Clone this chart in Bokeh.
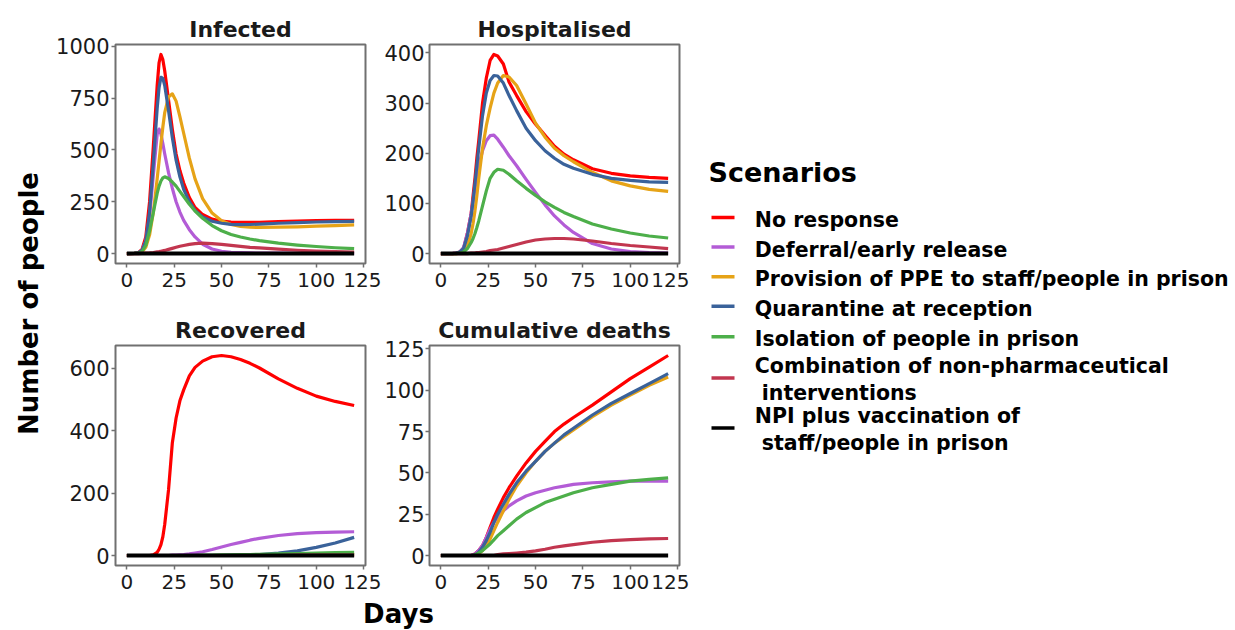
import numpy as np
from bokeh.plotting import figure
from bokeh.models import Range1d, FixedTicker
from bokeh.layouts import row, column
from bokeh.embed import file_html
from bokeh.resources import INLINE
from bokeh.core.properties import value

# ---------------- data ----------------
days = [0, 4, 6, 8, 10, 12, 14, 16, 17, 18, 19, 20, 22, 24, 26, 28, 30, 33, 36, 40,
        45, 50, 55, 60, 65, 70, 80, 90, 100, 110, 120]

scenarios = [
    "No response",
    "Deferral/early release",
    "Provision of PPE to staff/people in prison",
    "Quarantine at reception",
    "Isolation of people in prison",
    "Combination of non-pharmaceutical\n interventions",
    "NPI plus vaccination of\n staff/people in prison",
]
colors = ["#FF0000", "#B35CD6", "#E6A317", "#3A629A", "#4DAF4A", "#C2364F", "#000000"]

panel_titles = ["Infected", "Hospitalised", "Recovered", "Cumulative deaths"]
x_ticks = [0, 25, 50, 75, 100, 125]
y_ticks_infected = [0, 250, 500, 750, 1000]
y_ticks_hospitalised = [0, 100, 200, 300, 400]
y_ticks_recovered = [0, 200, 400, 600]
y_ticks_deaths = [0, 25, 50, 75, 100, 125]

# Infected
inf_no_response = [0, 1, 4, 20, 80, 250, 520, 810, 920, 960, 935, 880, 740, 600, 480, 400, 340, 270, 222, 188,
                   166, 156, 152, 150, 150, 151, 154, 157, 159, 160, 160]
inf_deferral = [0, 1, 3, 15, 60, 180, 380, 575, 600, 575, 530, 480, 390, 315, 250, 200, 160, 115, 80, 45,
                22, 11, 6, 4, 3, 2, 2, 1, 1, 1, 1]
inf_ppe = [0, 1, 2, 8, 30, 90, 200, 360, 445, 530, 610, 680, 755, 770, 735, 660, 580, 460, 360, 265,
           195, 158, 140, 131, 127, 126, 127, 129, 132, 135, 138]
inf_quarantine = [0, 1, 3, 15, 60, 200, 440, 700, 800, 850, 845, 810, 690, 560, 450, 370, 310, 250, 208, 176,
                  156, 146, 141, 139, 140, 142, 146, 149, 152, 154, 155]
inf_isolation = [0, 1, 2, 10, 40, 110, 200, 290, 325, 350, 365, 370, 362, 345, 325, 300, 275, 238, 205, 170,
                 135, 110, 92, 80, 70, 62, 50, 41, 34, 28, 24]
inf_combination = [0, 0, 0, 1, 2, 3, 5, 8, 9, 11, 13, 15, 20, 25, 30, 35, 39, 44, 48, 50,
                   48, 44, 39, 35, 30, 27, 21, 16, 12, 9, 7]
inf_npi_vacc = [0, 0, 0, 0, 0, 0, 0, 0, 0, 0, 0, 0, 0, 0, 0, 0, 0, 0, 0, 0,
                0, 0, 0, 0, 0, 0, 0, 0, 0, 0, 0]

# Hospitalised
hos_no_response = [0, 0, 0, 1, 3, 10, 40, 80, 115, 150, 190, 225, 300, 350, 385, 397, 394, 378, 342, 315,
                   283, 258, 236, 214, 198, 187, 169, 160, 155, 152, 150]
hos_deferral = [0, 0, 0, 1, 3, 12, 40, 80, 105, 130, 155, 175, 205, 225, 235, 236, 228, 212, 195, 175,
                148, 122, 97, 75, 57, 42, 20, 9, 4, 2, 1]
hos_ppe = [0, 0, 0, 0, 1, 4, 15, 40, 60, 85, 115, 150, 210, 255, 290, 320, 340, 355, 352, 335,
           298, 260, 232, 210, 195, 183, 162, 145, 135, 128, 124]
hos_quarantine = [0, 0, 0, 1, 3, 10, 35, 75, 105, 140, 175, 210, 275, 320, 345, 355, 354, 340, 315, 285,
                  250, 225, 205, 190, 178, 170, 158, 150, 146, 143, 142]
hos_isolation = [0, 0, 0, 0, 1, 3, 10, 22, 30, 40, 52, 65, 95, 125, 150, 162, 168, 166, 158, 145,
                 130, 116, 103, 92, 82, 74, 59, 49, 41, 35, 31]
hos_combination = [0, 0, 0, 0, 0, 0, 0, 1, 1, 1, 2, 2, 3, 4, 6, 7, 8, 11, 14, 18,
                   23, 27, 29, 30, 30, 29, 25, 20, 16, 13, 10]
hos_npi_vacc = [0, 0, 0, 0, 0, 0, 0, 0, 0, 0, 0, 0, 0, 0, 0, 0, 0, 0, 0, 0,
                0, 0, 0, 0, 0, 0, 0, 0, 0, 0, 0]

# Recovered
rec_no_response = [0, 0, 0, 0, 0, 0, 2, 10, 20, 35, 60, 100, 210, 360, 440, 495, 530, 575, 602, 622,
                   636, 640, 636, 627, 615, 600, 565, 535, 510, 493, 480]
rec_deferral = [0, 0, 0, 0, 0, 0, 0, 0, 0, 0, 0, 0, 0, 1, 1, 2, 3, 5, 8, 12,
                19, 27, 35, 42, 49, 55, 64, 70, 73, 75, 76]
rec_ppe = [0, 0, 0, 0, 0, 0, 0, 0, 0, 0, 0, 0, 0, 0, 0, 0, 0, 0, 0, 0,
           0, 0, 0, 0, 0, 0, 1, 1, 2, 2, 3]
rec_quarantine = [0, 0, 0, 0, 0, 0, 0, 0, 0, 0, 0, 0, 0, 0, 0, 0, 0, 0, 0, 0,
                  0, 0, 1, 1, 2, 3, 8, 15, 26, 40, 58]
rec_isolation = [0, 0, 0, 0, 0, 0, 0, 0, 0, 0, 0, 0, 0, 0, 0, 0, 0, 0, 0, 1,
                 1, 2, 2, 3, 3, 4, 5, 6, 8, 9, 10]
rec_combination = [0, 0, 0, 0, 0, 0, 0, 0, 0, 0, 0, 0, 0, 0, 0, 0, 0, 0, 0, 0,
                   0, 0, 0, 0, 0, 0, 0, 1, 1, 1, 1]
rec_npi_vacc = [0, 0, 0, 0, 0, 0, 0, 0, 0, 0, 0, 0, 0, 0, 0, 0, 0, 0, 0, 0,
                0, 0, 0, 0, 0, 0, 0, 0, 0, 0, 0]

# Cumulative deaths
dth_no_response = [0, 0, 0, 0, 0, 0, 0, 0, 0.5, 1, 2, 3, 6, 11, 17, 23, 28, 35, 41, 48,
                   56, 63, 69, 75, 79.5, 83.5, 91, 99, 107, 114, 121]
dth_deferral = [0, 0, 0, 0, 0, 0, 0, 0, 0.5, 1, 2, 3, 6, 11, 16, 20, 23, 27, 30, 33,
                36, 38, 39.5, 41, 42, 43, 44, 44.5, 45, 45, 45]
dth_ppe = [0, 0, 0, 0, 0, 0, 0, 0, 0, 0, 0.5, 1, 3, 6, 10, 15, 20, 27, 34, 42,
           50, 57, 63, 68, 72, 76, 84, 91, 97, 103, 108]
dth_quarantine = [0, 0, 0, 0, 0, 0, 0, 0, 0, 0.5, 1, 2, 5, 9, 14, 20, 25, 31, 37, 44,
                  51, 57, 63, 68, 73, 77, 85, 92, 98, 104, 110]
dth_isolation = [0, 0, 0, 0, 0, 0, 0, 0, 0, 0.5, 1, 1.5, 3, 5, 7, 9.5, 12, 15, 18, 22,
                 26, 29, 32, 34, 36, 38, 41, 43, 45, 46, 47]
dth_combination = [0, 0, 0, 0, 0, 0, 0, 0, 0, 0, 0, 0, 0, 0, 0, 0, 0.5, 1, 1.2, 1.5,
                   2, 2.8, 3.8, 5, 5.8, 6.6, 8, 9, 9.6, 10, 10.3]
dth_npi_vacc = [0, 0, 0, 0, 0, 0, 0, 0, 0, 0, 0, 0, 0, 0, 0, 0, 0, 0, 0, 0,
                0, 0, 0, 0, 0, 0, 0, 0, 0, 0, 0]

infected = [inf_no_response, inf_deferral, inf_ppe, inf_quarantine, inf_isolation, inf_combination, inf_npi_vacc]
hospitalised = [hos_no_response, hos_deferral, hos_ppe, hos_quarantine, hos_isolation, hos_combination, hos_npi_vacc]
recovered = [rec_no_response, rec_deferral, rec_ppe, rec_quarantine, rec_isolation, rec_combination, rec_npi_vacc]
deaths = [dth_no_response, dth_deferral, dth_ppe, dth_quarantine, dth_isolation, dth_combination, dth_npi_vacc]

# ---------------- styling ----------------
FONT = "DejaVu Sans"
FRAME_COL = "#707070"
TICK_TXT = "#1a1a1a"


def expand(vals_list):
    lo = 0.0
    hi = max(max(v) for v in vals_list)
    pad = (hi - lo) * 0.05
    return lo - pad, hi + pad


def make_panel(title, series, yticks, left, right, top, bottom, fh, ystand):
    y0, y1 = expand(series)
    p = figure(frame_width=250, frame_height=fh,
               x_range=Range1d(-6, 126), y_range=Range1d(y0, y1),
               output_backend="svg", toolbar_location=None,
               min_border_left=left, min_border_right=right,
               min_border_top=top, min_border_bottom=bottom,
               background_fill_color="white", border_fill_color="white",
               title=title)
    p.title.text_font = FONT
    p.title.text_font_style = "bold"
    p.title.text_font_size = "22px"
    p.title.text_color = "#1a1a1a"
    p.title.align = "center"
    p.title.standoff = 6
    p.grid.visible = False
    p.outline_line_color = FRAME_COL
    p.outline_line_width = 2
    p.xaxis.ticker = FixedTicker(ticks=x_ticks)
    p.yaxis.ticker = FixedTicker(ticks=yticks)
    for ax in (p.xaxis[0], p.yaxis[0]):
        ax.axis_line_color = None
        ax.minor_tick_line_color = None
        ax.major_tick_in = 0
        ax.major_tick_out = 4
        ax.major_tick_line_color = FRAME_COL
        ax.major_tick_line_width = 1.5
        ax.major_label_text_font = FONT
        ax.major_label_text_color = TICK_TXT
    p.xaxis[0].major_label_text_font_size = "20px"
    p.yaxis[0].major_label_text_font_size = "21px"
    p.xaxis[0].major_label_standoff = 5
    p.yaxis[0].major_label_standoff = ystand
    for vals, col in zip(series, colors):
        lw = 4 if col == "#000000" else 3.2
        p.line(days, vals, line_color=col, line_width=lw, line_join="round")
    return p


YW = 48
L1, R1, L2, R2 = 67, 16, 47, 10
pA = make_panel(panel_titles[0], infected, y_ticks_infected, L1, R1, 44, 40, 219, 2)
pB = make_panel(panel_titles[1], hospitalised, y_ticks_hospitalised, L2, R2, 44, 40, 219, 1)
pC = make_panel(panel_titles[2], recovered, y_ticks_recovered, L1, R1, 42, 32, 220, 2)
pD = make_panel(panel_titles[3], deaths, y_ticks_deaths, L2, R2, 42, 32, 220, 1)

COL_W = L1 + 250 + R1 + L2 + 250 + R2
TOTAL_H = 629
DAYS_H = TOTAL_H - (44 + 219 + 40) - (42 + 220 + 32)


def blank(w, h, xr, yr):
    f = figure(width=w, height=h, x_range=xr, y_range=yr,
               x_axis_type=None, y_axis_type=None,
               output_backend="svg", toolbar_location=None, min_border=0,
               background_fill_color="white", border_fill_color="white")
    f.grid.visible = False
    f.outline_line_color = None
    return f


# "Days" x label
pdays = blank(COL_W, DAYS_H, Range1d(0, COL_W), Range1d(0, DAYS_H))
pdays.text(x=[350], y=[16], text=["Days"], text_font=value(FONT), text_font_style="bold",
           text_font_size="26px", text_align="center", text_baseline="middle", text_color="black")

# "Number of people" y label
pylab = blank(YW, TOTAL_H, Range1d(0, YW), Range1d(0, TOTAL_H))
pylab.text(x=[28], y=[TOTAL_H - 303], text=["Number of people"], angle=np.pi / 2,
           text_font=value(FONT), text_font_style="bold", text_font_size="26px",
           text_align="center", text_baseline="middle", text_color="black")

# Legend (y grows downward, pixel units)
LW = 1233 - YW - COL_W
pleg = blank(LW, TOTAL_H, Range1d(0, LW), Range1d(TOTAL_H, 0))
pleg.text(x=[19], y=[171.8], text=["Scenarios"], text_font=value(FONT), text_font_style="bold",
          text_font_size="27px", text_align="left", text_baseline="middle", text_color="black")
first_centres = [219.4, 249.0, 278.7, 308.2, 338.7, 365.4, 415.4]
line_gap = 27.3
seg_y, tx, ty, tt = [], [], [], []
for lab, c in zip(scenarios, first_centres):
    parts = lab.split("\n")
    for k, part in enumerate(parts):
        indent = 7 if part.startswith(" ") else 0
        tx.append(65.3 + indent)
        ty.append(c + k * line_gap)
        tt.append(part.strip())
    mid = c + (len(parts) - 1) * line_gap / 2.0
    seg_y.append(mid - (2.5 if len(parts) == 1 else 1.5))
pleg.segment(x0=[22] * len(seg_y), y0=seg_y, x1=[45] * len(seg_y), y1=seg_y,
             line_color=colors, line_width=3.5)
pleg.text(x=tx, y=ty, text=tt, text_font=value(FONT), text_font_style="bold",
          text_font_size="20.5px", text_align="left", text_baseline="middle", text_color="black")

layout = row(pylab, column(row(pA, pB), row(pC, pD), pdays), pleg)

open("out.html", "w").write(file_html(layout, INLINE))
